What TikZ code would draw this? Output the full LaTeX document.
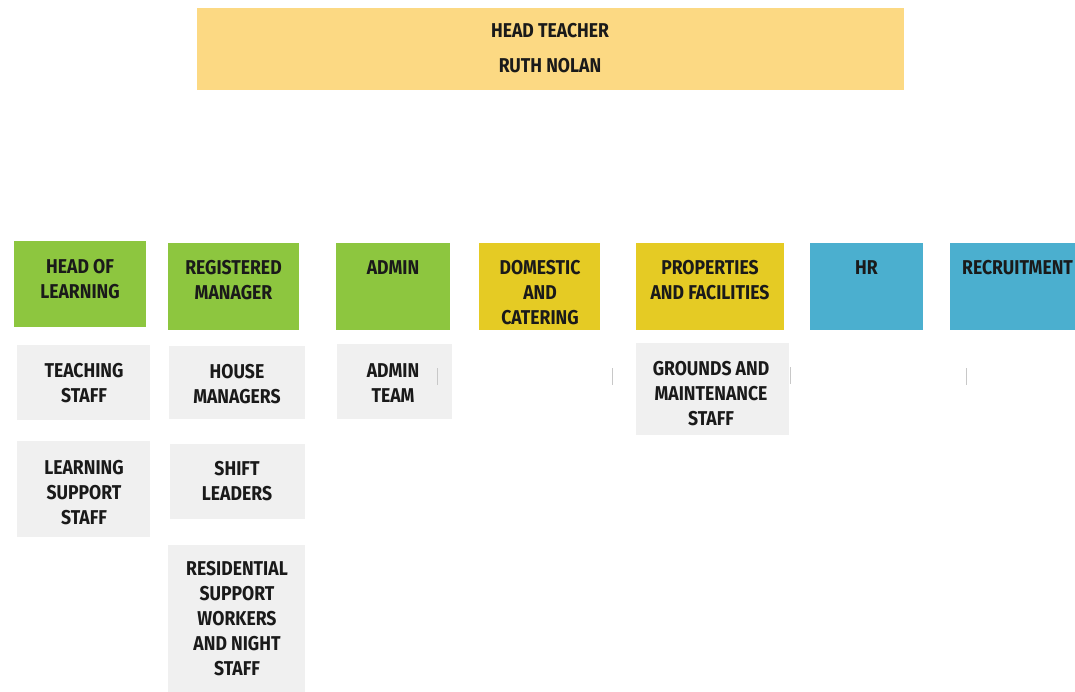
\documentclass[tikz,border=0pt]{standalone}
\usepackage{fontspec}
\setmainfont{Fira Sans}[FakeStretch=0.88]
\definecolor{topyel}{HTML}{FCD983}
\definecolor{grn}{HTML}{8DC63F}
\definecolor{yel}{HTML}{E5CB24}
\definecolor{blu}{HTML}{4BAFCF}
\definecolor{gry}{HTML}{F0F0F0}
\definecolor{txt}{HTML}{1A1A1A}
\definecolor{tick}{HTML}{C8C8C8}
\tikzset{
  box/.style={anchor=north west, inner sep=0pt, outer sep=0pt, draw=none},
  lbl/.style={inner sep=0pt, align=center, text=txt,
    font=\fontsize{20}{25}\selectfont\bfseries},
  tickline/.style={draw=tick, line width=0.8pt}
}
\newcommand{\boxat}[6]{% name, color, x1, y1, x2, y2
  \path[fill=#2] (#3,#4) rectangle (#5,#6);
  \coordinate (#1-nw) at (#3,#4);
  \coordinate (#1-se) at (#5,#6);
}
\begin{document}
\begin{tikzpicture}[x=1pt,y=-1pt]
\useasboundingbox (0,0) rectangle (1075,691);
\fill[white] (0,0) rectangle (1075,691);

% top box
\node[box, fill=topyel, minimum width=707pt, minimum height=82pt] (head) at (197,8) {};
\node[lbl] (head-t) at (550,48.5) {HEAD TEACHER\\[10pt]RUTH NOLAN};

% level 2
\node[box, fill=grn, minimum width=132pt, minimum height=86pt] (hol) at (14,241) {};
\node[lbl] (hol-t) at (80,279.5) {HEAD OF\\LEARNING};

\node[box, fill=grn, minimum width=131pt, minimum height=87pt] (rm) at (168,243) {};
\node[lbl] (rm-t) at (233.5,280.5) {REGISTERED\\MANAGER};

\node[box, fill=grn, minimum width=114pt, minimum height=87pt] (adm) at (336,243) {};
\node[lbl] (adm-t) at (393,268) {ADMIN};

\node[box, fill=yel, minimum width=121pt, minimum height=87pt] (dc) at (479,243) {};
\node[lbl] (dc-t) at (540,292.5) {DOMESTIC\\AND\\CATERING};

\node[box, fill=yel, minimum width=148pt, minimum height=87pt] (pf) at (636,243) {};
\node[lbl] (pf-t) at (710,280.5) {PROPERTIES\\AND FACILITIES};

\node[box, fill=blu, minimum width=113pt, minimum height=87pt] (hr) at (810,243) {};
\node[lbl] (hr-t) at (866.5,268) {HR};

\node[box, fill=blu, minimum width=140pt, minimum height=87pt] (rec) at (950,243) {};
\node[lbl, anchor=west] (rec-t) at (962,268) {RECRUITMENT};

% level 3
\node[box, fill=gry, minimum width=133pt, minimum height=75pt] (ts) at (17,345) {};
\node[lbl] (ts-t) at (84,383) {TEACHING\\STAFF};

\node[box, fill=gry, minimum width=133pt, minimum height=96pt] (lss) at (17,441) {};
\node[lbl] (lss-t) at (84,492.5) {LEARNING\\SUPPORT\\STAFF};

\node[box, fill=gry, minimum width=136pt, minimum height=73pt] (hm) at (169,346) {};
\node[lbl] (hm-t) at (237,384.5) {HOUSE\\MANAGERS};

\node[box, fill=gry, minimum width=135pt, minimum height=75pt] (sl) at (170,444) {};
\node[lbl] (sl-t) at (237,481.5) {SHIFT\\LEADERS};

\node[box, fill=gry, minimum width=137pt, minimum height=150pt] (rsw) at (168,545) {};
\node[lbl] (rsw-t) at (237,619) {RESIDENTIAL\\SUPPORT\\WORKERS\\AND NIGHT\\STAFF};

\node[box, fill=gry, minimum width=115pt, minimum height=75pt] (at) at (337,344) {};
\node[lbl] (at-t) at (393,383) {ADMIN\\TEAM};

\node[box, fill=gry, minimum width=153pt, minimum height=92pt] (gms) at (636,343) {};
\node[lbl] (gms-t) at (711,394) {GROUNDS AND\\MAINTENANCE\\STAFF};

% faint tick marks
\coordinate (t1a) at (437,368); \coordinate (t1b) at (437,385);
\coordinate (t2a) at (612,368); \coordinate (t2b) at (612,385);
\coordinate (t3a) at (790,367); \coordinate (t3b) at (790,384);
\coordinate (t4a) at (966,368); \coordinate (t4b) at (966,385);
\draw[tickline] (t1a) -- (t1b);
\draw[tickline] (t2a) -- (t2b);
\draw[tickline] (t3a) -- (t3b);
\draw[tickline] (t4a) -- (t4b);
\end{tikzpicture}
\end{document}
